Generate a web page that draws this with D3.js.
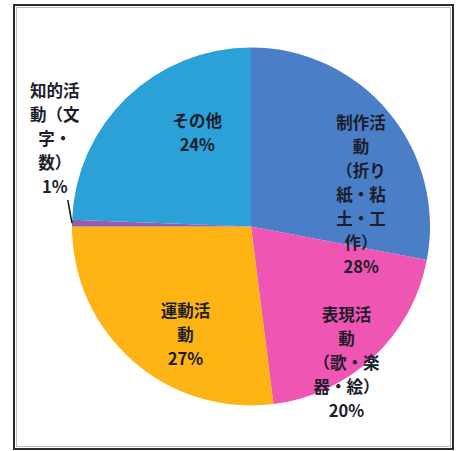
<!DOCTYPE html>
<html>
<head>
<meta charset="utf-8">
<script src="https://cdn.jsdelivr.net/npm/d3@7"></script>
<style>
  html, body { margin: 0; padding: 0; background: #fff; }
  svg { display: block; }
  text { font-family: "Noto Sans CJK JP", "Noto Sans", sans-serif; font-weight: bold; }
</style>
</head>
<body>
<div id="chart"></div>
<script>
// slices, clockwise from 12 o'clock
const categories = ["制作活動（折り紙・粘土・工作）", "表現活動（歌・楽器・絵）", "運動活動", "知的活動（文字・数）", "その他"];
const values = [28, 20, 27, 0.6, 24.4];
// how each label is broken into lines (percent is appended)
const labelLines = [
  ["制作活", "動", "（折り", "紙・粘", "土・工", "作）"],
  ["表現活", "動", "（歌・楽", "器・絵）"],
  ["運動活", "動"],
  ["知的活", "動（文", "字・", "数）"],
  ["その他"]
];

const colors = ["#4a7ec6", "#ef55b2", "#fdb414", "#9a5cb0", "#2ba1d7"];
// label block anchor: [angle in degrees clockwise from top, distance as share of radius]
const labelAt = [[74, 0.64], [145, 0.93], [211, 0.71], [294, 1.2], [330, 0.6]];

const W = 464, H = 451;
const cx = 251, cy = 226.5, R = 179;
const lineH = 24;

const svg = d3.select("#chart").append("svg").attr("width", W).attr("height", H);

// frame
svg.append("rect").attr("x", 14).attr("y", 5).attr("width", 439).attr("height", 444)
  .attr("fill", "#fff").attr("stroke", "#2b2b2b").attr("stroke-width", 2);
svg.append("rect").attr("x", 16.5).attr("y", 7.5).attr("width", 434).attr("height", 439)
  .attr("fill", "none").attr("stroke", "#b8bcbc").attr("stroke-width", 1);

const data = categories.map((c, i) => ({ name: c, value: values[i], lines: labelLines[i], color: colors[i] }));
const pie = d3.pie().sort(null).value(d => d.value);
const arc = d3.arc().innerRadius(0).outerRadius(R);
const arcs = pie(data);

const g = svg.append("g").attr("transform", `translate(${cx},${cy})`);

g.selectAll("path.slice")
  .data(arcs)
  .join("path")
  .attr("class", "slice")
  .attr("d", arc)
  .attr("fill", d => d.data.color);

const polar = (deg, r) => {
  const a = deg * Math.PI / 180;
  return [Math.sin(a) * r, -Math.cos(a) * r];
};

arcs.forEach((d, i) => {
  const [lx, ly] = polar(labelAt[i][0], labelAt[i][1] * R);
  const lines = d.data.lines.concat([Math.round(d.data.value) + "%"]);
  const top = ly - (lines.length - 1) * lineH / 2;
  const t = g.append("text")
    .attr("text-anchor", "middle")
    .attr("font-size", 16.5)
    .attr("fill", "#1d1d2b");
  lines.forEach((s, k) => {
    t.append("tspan").attr("x", lx).attr("y", top + k * lineH).attr("dy", "0.36em").text(s);
  });

  // leader line for the label that sits outside the pie
  if (labelAt[i][1] > 1) {
    const mid = (d.startAngle + d.endAngle) / 2 * 180 / Math.PI;
    const [ex, ey] = polar(mid, R);
    g.append("line")
      .attr("x1", lx + 13).attr("y1", top + (lines.length - 1) * lineH + 13)
      .attr("x2", ex).attr("y2", ey)
      .attr("stroke", "#111").attr("stroke-width", 1.5);
  }
});
</script>
</body>
</html>
